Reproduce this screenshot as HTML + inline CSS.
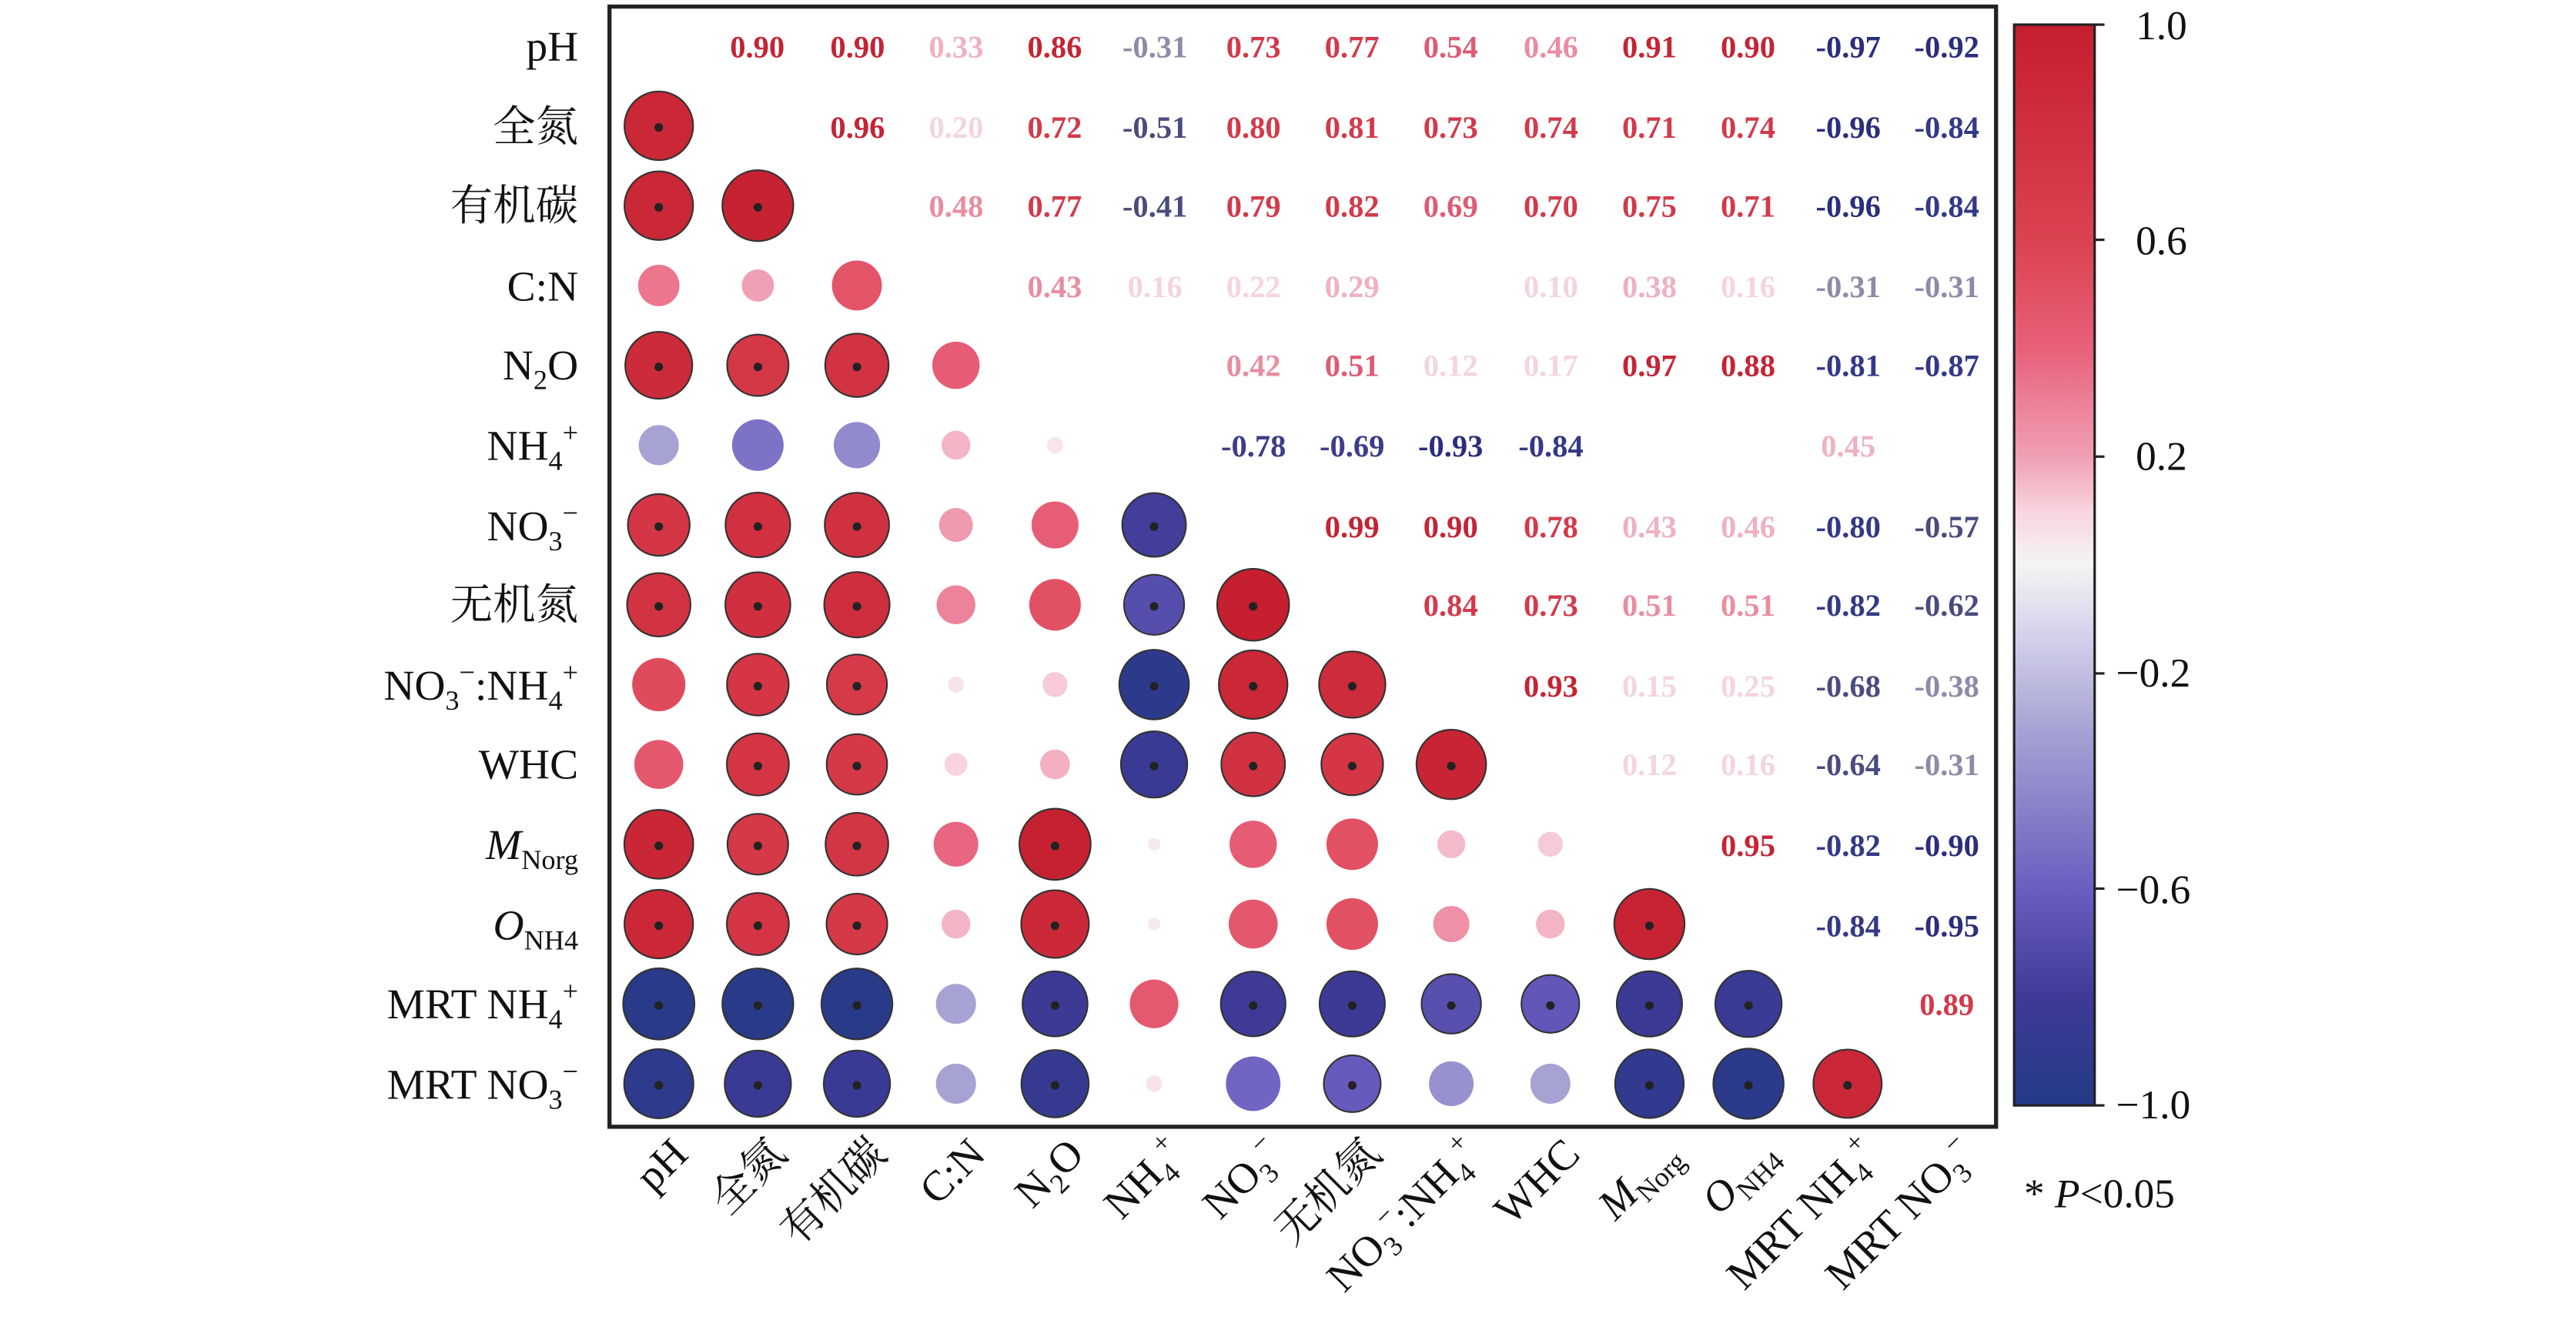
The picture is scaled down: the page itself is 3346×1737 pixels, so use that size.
<!DOCTYPE html>
<html><head><meta charset="utf-8"><style>
html,body{margin:0;padding:0;background:#fff}
svg{display:block}
text{font-family:"Liberation Serif","Noto Serif CJK SC","Noto Sans CJK SC",serif}
.n{font-size:19px;text-anchor:middle;font-weight:bold}
.yl{font-size:26px;text-anchor:end;fill:#111}
.xl{font-size:26px;text-anchor:end;fill:#111}
.c9{fill:#c42434}.c8{fill:#d23a4b}.c7{fill:#de5b74}.c5{fill:#e98da0}.c4{fill:#efb1c0}.c2{fill:#f4d5dd}
.m9{fill:#2b2e7c}.m8{fill:#343986}.m7{fill:#3c3d8a}.m5{fill:#4a4c7e}.m4{fill:#8c8ca8}.m3{fill:#c0bed8}
</style></head><body>
<svg id="s" width="3346" height="1737" viewBox="0 0 1568 814" preserveAspectRatio="none" xmlns="http://www.w3.org/2000/svg">
<defs>
<linearGradient id="g" x1="0" y1="0" x2="0" y2="1">
<stop offset="0" stop-color="#c41e2f"/><stop offset="0.2" stop-color="#db4250"/><stop offset="0.3" stop-color="#e8607a"/>
<stop offset="0.4" stop-color="#f0a0b4"/><stop offset="0.45" stop-color="#f8d4de"/><stop offset="0.5" stop-color="#f4f4f4"/>
<stop offset="0.56" stop-color="#d6d4ec"/><stop offset="0.65" stop-color="#a8a4d4"/><stop offset="0.8" stop-color="#6a5ec0"/>
<stop offset="0.9" stop-color="#3e3a96"/><stop offset="1" stop-color="#243a86"/>
</linearGradient>
</defs>
<rect x="371" y="4" width="844" height="682" fill="none" stroke="#222" stroke-width="2.5"/>
<g id="circ"></g>
<g class="n">
<text x="461" y="35" class="c9">0.90</text><text x="522" y="35" class="c9">0.90</text><text x="582" y="35" class="c4">0.33</text><text x="642" y="35" class="c9">0.86</text><text x="703" y="35" class="m4">-0.31</text><text x="763" y="35" class="c8">0.73</text><text x="823" y="35" class="c8">0.77</text><text x="883" y="35" class="c7">0.54</text><text x="944" y="35" class="c5">0.46</text><text x="1004" y="35" class="c9">0.91</text><text x="1064" y="35" class="c9">0.90</text><text x="1125" y="35" class="m9">-0.97</text><text x="1185" y="35" class="m9">-0.92</text>
<text x="522" y="84" class="c9">0.96</text><text x="582" y="84" class="c2">0.20</text><text x="642" y="84" class="c8">0.72</text><text x="703" y="84" class="m5">-0.51</text><text x="763" y="84" class="c8">0.80</text><text x="823" y="84" class="c8">0.81</text><text x="883" y="84" class="c8">0.73</text><text x="944" y="84" class="c8">0.74</text><text x="1004" y="84" class="c8">0.71</text><text x="1064" y="84" class="c8">0.74</text><text x="1125" y="84" class="m9">-0.96</text><text x="1185" y="84" class="m8">-0.84</text>
<text x="582" y="132" class="c5">0.48</text><text x="642" y="132" class="c8">0.77</text><text x="703" y="132" class="m5">-0.41</text><text x="763" y="132" class="c8">0.79</text><text x="823" y="132" class="c8">0.82</text><text x="883" y="132" class="c7">0.69</text><text x="944" y="132" class="c8">0.70</text><text x="1004" y="132" class="c8">0.75</text><text x="1064" y="132" class="c8">0.71</text><text x="1125" y="132" class="m9">-0.96</text><text x="1185" y="132" class="m8">-0.84</text>
<text x="642" y="181" class="c5">0.43</text><text x="703" y="181" class="c2">0.16</text><text x="763" y="181" class="c2">0.22</text><text x="823" y="181" class="c4">0.29</text><text x="944" y="181" class="c2">0.10</text><text x="1004" y="181" class="c4">0.38</text><text x="1064" y="181" class="c2">0.16</text><text x="1125" y="181" class="m4">-0.31</text><text x="1185" y="181" class="m4">-0.31</text>
<text x="763" y="229" class="c5">0.42</text><text x="823" y="229" class="c7">0.51</text><text x="883" y="229" class="c2">0.12</text><text x="944" y="229" class="c2">0.17</text><text x="1004" y="229" class="c9">0.97</text><text x="1064" y="229" class="c9">0.88</text><text x="1125" y="229" class="m8">-0.81</text><text x="1185" y="229" class="m8">-0.87</text>
<text x="763" y="278" class="m7">-0.78</text><text x="823" y="278" class="m7">-0.69</text><text x="883" y="278" class="m9">-0.93</text><text x="944" y="278" class="m8">-0.84</text><text x="1125" y="278" class="c4">0.45</text>
<text x="823" y="327" class="c9">0.99</text><text x="883" y="327" class="c9">0.90</text><text x="944" y="327" class="c8">0.78</text><text x="1004" y="327" class="c4">0.43</text><text x="1064" y="327" class="c4">0.46</text><text x="1125" y="327" class="m8">-0.80</text><text x="1185" y="327" class="m5">-0.57</text>
<text x="883" y="375" class="c8">0.84</text><text x="944" y="375" class="c8">0.73</text><text x="1004" y="375" class="c5">0.51</text><text x="1064" y="375" class="c5">0.51</text><text x="1125" y="375" class="m8">-0.82</text><text x="1185" y="375" class="m5">-0.62</text>
<text x="944" y="424" class="c9">0.93</text><text x="1004" y="424" class="c2">0.15</text><text x="1064" y="424" class="c2">0.25</text><text x="1125" y="424" class="m5">-0.68</text><text x="1185" y="424" class="m4">-0.38</text>
<text x="1004" y="472" class="c2">0.12</text><text x="1064" y="472" class="c2">0.16</text><text x="1125" y="472" class="m5">-0.64</text><text x="1185" y="472" class="m4">-0.31</text>
<text x="1064" y="521" class="c9">0.95</text><text x="1125" y="521" class="m8">-0.82</text><text x="1185" y="521" class="m9">-0.90</text>
<text x="1125" y="570" class="m8">-0.84</text><text x="1185" y="570" class="m9">-0.95</text>
<text x="1185" y="618" class="c8">0.89</text>
</g>
<g class="yl">
<text x="352" y="37">pH</text>
<text x="352" y="86">全氮</text>
<text x="352" y="134">有机碳</text>
<text x="352" y="183">C:N</text>
<text x="352" y="231">N<tspan font-size="17" dy="6">2</tspan><tspan dy="-6">O</tspan></text>
<text x="352" y="280">NH<tspan font-size="17" dy="6">4</tspan><tspan font-size="17" dy="-17">+</tspan></text>
<text x="352" y="329">NO<tspan font-size="17" dy="6">3</tspan><tspan font-size="17" dy="-17">−</tspan></text>
<text x="352" y="377">无机氮</text>
<text x="352" y="426">NO<tspan font-size="17" dy="6">3</tspan><tspan font-size="17" dy="-17">−</tspan><tspan dy="11">:NH</tspan><tspan font-size="17" dy="6">4</tspan><tspan font-size="17" dy="-17">+</tspan></text>
<text x="352" y="474">WHC</text>
<text x="352" y="523"><tspan font-style="italic">M</tspan><tspan font-size="17" dy="6">Norg</tspan></text>
<text x="352" y="572"><tspan font-style="italic">O</tspan><tspan font-size="17" dy="6">NH4</tspan></text>
<text x="352" y="620">MRT NH<tspan font-size="17" dy="6">4</tspan><tspan font-size="17" dy="-17">+</tspan></text>
<text x="352" y="669">MRT NO<tspan font-size="17" dy="6">3</tspan><tspan font-size="17" dy="-17">−</tspan></text>
</g>
<g class="xl">
<text transform="translate(420,704) rotate(-45)">pH</text>
<text transform="translate(480,704) rotate(-45)">全氮</text>
<text transform="translate(541,704) rotate(-45)">有机碳</text>
<text transform="translate(601,704) rotate(-45)">C:N</text>
<text transform="translate(661,704) rotate(-45)">N<tspan font-size="17" dy="6">2</tspan><tspan dy="-6">O</tspan></text>
<text transform="translate(722,704) rotate(-45)">NH<tspan font-size="17" dy="6">4</tspan><tspan font-size="17" dy="-17">+</tspan></text>
<text transform="translate(782,704) rotate(-45)">NO<tspan font-size="17" dy="6">3</tspan><tspan font-size="17" dy="-17">−</tspan></text>
<text transform="translate(842,704) rotate(-45)">无机氮</text>
<text transform="translate(902,704) rotate(-45)">NO<tspan font-size="17" dy="6">3</tspan><tspan font-size="17" dy="-17">−</tspan><tspan dy="11">:NH</tspan><tspan font-size="17" dy="6">4</tspan><tspan font-size="17" dy="-17">+</tspan></text>
<text transform="translate(963,704) rotate(-45)">WHC</text>
<text transform="translate(1023,704) rotate(-45)"><tspan font-style="italic">M</tspan><tspan font-size="17" dy="6">Norg</tspan></text>
<text transform="translate(1083,704) rotate(-45)"><tspan font-style="italic">O</tspan><tspan font-size="17" dy="6">NH4</tspan></text>
<text transform="translate(1144,704) rotate(-45)">MRT NH<tspan font-size="17" dy="6">4</tspan><tspan font-size="17" dy="-17">+</tspan></text>
<text transform="translate(1204,704) rotate(-45)">MRT NO<tspan font-size="17" dy="6">3</tspan><tspan font-size="17" dy="-17">−</tspan></text>
</g>
<rect x="1226" y="15" width="49" height="658" fill="url(#g)" stroke="#222" stroke-width="1.5"/>
<g stroke="#222" stroke-width="1.5">
<line x1="1275" y1="15" x2="1281" y2="15"/><line x1="1275" y1="146" x2="1281" y2="146"/><line x1="1275" y1="278" x2="1281" y2="278"/>
<line x1="1275" y1="410" x2="1281" y2="410"/><line x1="1275" y1="541" x2="1281" y2="541"/><line x1="1275" y1="673" x2="1281" y2="673"/>
</g>
<g font-size="25" fill="#111">
<text x="1300" y="24">1.0</text><text x="1300" y="155">0.6</text><text x="1300" y="286">0.2</text>
<text x="1288" y="418">−0.2</text><text x="1288" y="550">−0.6</text><text x="1288" y="681">−1.0</text>
<text x="1232" y="735">* <tspan font-style="italic">P</tspan>&lt;0.05</text>
</g>
</svg>
<script>
var U=[[.90,.90,.33,.86,-.31,.73,.77,.54,.46,.91,.90,-.97,-.92],
[.96,.20,.72,-.51,.80,.81,.73,.74,.71,.74,-.96,-.84],
[.48,.77,-.41,.79,.82,.69,.70,.75,.71,-.96,-.84],
[.43,.16,.22,.29,.05,.10,.38,.16,-.31,-.31],
[.05,.42,.51,.12,.17,.97,.88,-.81,-.87],
[-.78,-.69,-.93,-.84,.03,.03,.45,.05],
[.99,.90,.78,.43,.46,-.80,-.57],
[.84,.73,.51,.51,-.82,-.62],
[.93,.15,.25,-.68,-.38],
[.12,.16,-.64,-.31],
[.95,-.82,-.90],
[-.84,-.95],
[.89]];
function lerp(a,b,t){return a.map(function(v,i){return Math.round(v+(b[i]-v)*t)})}
var stops=[[-1,[36,58,134]],[-0.8,[62,58,150]],[-0.6,[106,94,192]],[-0.3,[168,164,212]],[-0.12,[214,212,236]],[0,[244,244,244]],[0.1,[248,212,222]],[0.2,[240,160,180]],[0.4,[232,96,122]],[0.6,[219,66,80]],[1,[196,30,47]]];
function col(v){for(var k=0;k<stops.length-1;k++){if(v<=stops[k+1][0]){var t=(v-stops[k][0])/(stops[k+1][0]-stops[k][0]);var c=lerp(stops[k][1],stops[k+1][1],t);return "rgb("+c.join(",")+")"}}return "rgb(196,30,47)"}
var g=document.getElementById("circ"),h="";
for(var i=0;i<13;i++)for(var k=0;k<U[i].length;k++){var j=i+1+k,v=U[i][k];
var cx=401+i*60.3,cy=28+j*48.6,r=22*Math.sqrt(Math.abs(v));
var st=Math.abs(v)>=0.6?' stroke="#333" stroke-width="1"':'';
h+='<circle cx="'+cx+'" cy="'+cy+'" r="'+r.toFixed(1)+'" fill="'+col(v)+'"'+st+'/>';
if(Math.abs(v)>=0.6)h+='<circle cx="'+cx+'" cy="'+(cy+1)+'" r="2.6" fill="#222"/>';}
g.innerHTML=h;
</script>
</body></html>
